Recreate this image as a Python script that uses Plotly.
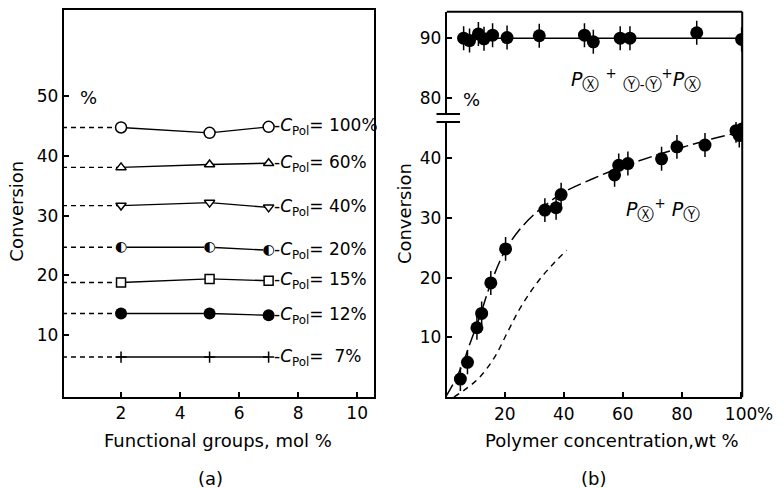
import plotly.graph_objects as go

W, H = 784, 488

# ---------------- Panel (a) data ----------------
fg_x = [2, 5, 7]                      # functional groups, mol %
extrap_x = [0.0, 2.0]                 # dashed extrapolation toward the axis
cpol_labels = ["100%", "60%", "40%", "20%", "15%", "12%", "\u00a07%"]
conv_100 = [44.8, 43.9, 44.9]
conv_60 = [38.1, 38.6, 38.8]
conv_40 = [31.7, 32.2, 31.4]
conv_20 = [24.7, 24.7, 24.2]
conv_15 = [18.8, 19.4, 19.1]
conv_12 = [13.6, 13.6, 13.3]
conv_7 = [6.3, 6.3, 6.3]

# ---------------- Panel (b) data ----------------
upper_x = [6.1, 8.1, 11.1, 13.0, 15.9, 20.8, 31.7, 47.0, 50.0, 59.1, 62.4, 85.0, 100.2]
upper_y = [90.0, 89.6, 90.7, 89.9, 90.5, 90.1, 90.4, 90.5, 89.4, 90.0, 90.0, 90.9, 89.8]
upper_err = [2] * len(upper_x)
upper_fit_x = [6, 100]
upper_fit_y = [90, 90]

lower_x = [5.0, 7.4, 10.6, 12.2, 15.3, 20.3, 33.6, 37.4, 39.1, 57.2, 58.6, 61.7,
           73.1, 78.3, 87.8, 98.3, 99.4, 100.4]
lower_y = [3.0, 5.8, 11.6, 14.0, 19.1, 24.8, 31.3, 31.7, 33.9, 37.2, 38.8, 39.1,
           39.9, 41.9, 42.2, 44.6, 43.8, 44.9]
lower_err = [2] * len(lower_x)

fit_x = [0, 3, 6, 8, 10, 12, 15, 20, 25, 30, 35, 40, 50, 60, 70, 80, 90, 100]
fit_y = [0, 2.6, 5.8, 8.6, 11.3, 14.1, 18.6, 24.4, 28.0, 30.6, 32.6, 34.3, 36.6,
         38.6, 40.3, 41.8, 43.2, 44.4]

sig_x = [2.8, 7.0, 11.5, 16.5, 21.0, 25.0, 29.0, 33.0, 37.0, 41.0]
sig_y = [0.0, 1.4, 3.3, 6.6, 10.9, 14.7, 17.8, 20.4, 22.6, 24.6]

x_ticks_a = [2, 4, 6, 8, 10]
y_ticks_a = [10, 20, 30, 40, 50]
x_ticks_b = [20, 40, 60, 80, 100]
y_ticks_b_low = [10, 20, 30, 40]
y_ticks_b_up = [80, 90]

FONT = "DejaVu Sans"
BLACK = "black"

fig = go.Figure()

outline = dict(width=1.5, color=BLACK)
series_a = [
    (conv_100, dict(symbol="circle", size=11, color="white", line=outline)),
    (conv_60, dict(symbol="triangle-up", size=9, color="white", line=outline)),
    (conv_40, dict(symbol="triangle-down", size=9, color="white", line=outline)),
    (conv_20, None),
    (conv_15, dict(symbol="square", size=9, color="white", line=outline)),
    (conv_12, dict(symbol="circle", size=12, color=BLACK)),
    (conv_7, dict(symbol="cross-thin", size=8, color=BLACK, line=outline)),
]

for vals, mk in series_a:
    fig.add_trace(go.Scatter(x=extrap_x, y=[vals[0], vals[0]], mode="lines",
                             line=dict(color=BLACK, width=1.4, dash="5px,4px"),
                             xaxis="x", yaxis="y", showlegend=False, hoverinfo="skip"))
    fig.add_trace(go.Scatter(x=fg_x, y=vals, mode="lines",
                             line=dict(color=BLACK, width=1.4),
                             xaxis="x", yaxis="y", showlegend=False, hoverinfo="skip"))
    if mk is None:
        fig.add_trace(go.Scatter(x=fg_x, y=vals, mode="markers",
                                 marker=dict(symbol="circle", size=11, color="white",
                                             line=dict(width=0)),
                                 xaxis="x", yaxis="y", showlegend=False, hoverinfo="skip"))
        fig.add_trace(go.Scatter(x=fg_x, y=vals, mode="text", text=["\u25D0"] * 3,
                                 textposition="middle center",
                                 textfont=dict(family=FONT, size=14, color=BLACK),
                                 xaxis="x", yaxis="y", showlegend=False, hoverinfo="skip"))
    else:
        fig.add_trace(go.Scatter(x=fg_x, y=vals, mode="markers", marker=mk,
                                 xaxis="x", yaxis="y", showlegend=False, hoverinfo="skip"))

annotations = []
for (vals, _), lab in zip(series_a, cpol_labels):
    annotations.append(dict(x=fg_x[-1] + 0.12, y=vals[-1], xref="x", yref="y",
                            text="-<i>C</i><sub>Pol</sub>= " + lab, showarrow=False,
                            xanchor="left", yanchor="middle",
                            font=dict(family=FONT, size=17, color=BLACK)))

# ---------------- Panel (b) traces ----------------
fig.add_trace(go.Scatter(x=upper_fit_x, y=upper_fit_y, mode="lines",
                         line=dict(color=BLACK, width=1.4),
                         xaxis="x2", yaxis="y3", showlegend=False, hoverinfo="skip"))
fig.add_trace(go.Scatter(x=upper_x, y=upper_y, mode="markers",
                         marker=dict(symbol="circle", size=13, color=BLACK),
                         error_y=dict(type="data", array=upper_err, visible=True,
                                      color=BLACK, thickness=1.5, width=0),
                         xaxis="x2", yaxis="y3", showlegend=False, hoverinfo="skip"))

fig.add_trace(go.Scatter(x=fit_x, y=fit_y, mode="lines", line_shape="spline",
                         line=dict(color=BLACK, width=1.5, dash="14px,5px"),
                         xaxis="x2", yaxis="y2", showlegend=False, hoverinfo="skip"))
fig.add_trace(go.Scatter(x=sig_x, y=sig_y, mode="lines", line_shape="spline",
                         line=dict(color=BLACK, width=1.4, dash="6px,5px"),
                         xaxis="x2", yaxis="y2", showlegend=False, hoverinfo="skip"))
fig.add_trace(go.Scatter(x=lower_x, y=lower_y, mode="markers",
                         marker=dict(symbol="circle", size=13, color=BLACK),
                         error_y=dict(type="data", array=lower_err, visible=True,
                                      color=BLACK, thickness=1.5, width=0),
                         xaxis="x2", yaxis="y2", showlegend=False, hoverinfo="skip"))


def px(x):
    return x / W


def py(y):
    return 1 - y / H


axis_common = dict(showgrid=False, zeroline=False, showline=True, linecolor=BLACK,
                   linewidth=2, ticks="inside", ticklen=5, tickwidth=1.5, tickcolor=BLACK,
                   tickfont=dict(family=FONT, size=17, color=BLACK))

fig.update_layout(
    width=W, height=H, margin=dict(l=0, r=0, t=0, b=0),
    paper_bgcolor="white", plot_bgcolor="white",
    xaxis=dict(domain=[px(65), px(381)], range=[0.06, 10.56], tickvals=x_ticks_a,
               anchor="y", mirror=True, **axis_common),
    yaxis=dict(domain=[py(396.5), py(10)], range=[-0.32, 64.5], tickvals=y_ticks_a,
               anchor="x", mirror=True, **axis_common),
    xaxis2=dict(domain=[px(455.5), px(756.7)], range=[0.4, 100.4], tickvals=x_ticks_b,
                ticktext=[str(v) for v in x_ticks_b], anchor="y2", **axis_common),
    yaxis2=dict(domain=[py(397.3), py(122)], range=[-0.05, 46.06], tickvals=y_ticks_b_low,
                anchor="x2", **axis_common),
    yaxis3=dict(domain=[py(114), py(11.7)], range=[77.4, 94.4], tickvals=y_ticks_b_up,
                anchor="x2", **axis_common),
)

shapes = [
    dict(type="line", xref="paper", yref="paper", x0=px(455.5), x1=px(756.7),
         y0=py(11.7), y1=py(11.7), line=dict(color=BLACK, width=2)),
    dict(type="line", xref="paper", yref="paper", x0=px(756.7), x1=px(756.7),
         y0=py(397.3), y1=py(11.7), line=dict(color=BLACK, width=2)),
    dict(type="line", xref="paper", yref="paper", x0=px(445), x1=px(469),
         y0=py(114), y1=py(114), line=dict(color=BLACK, width=2)),
    dict(type="line", xref="paper", yref="paper", x0=px(445), x1=px(469),
         y0=py(122), y1=py(122), line=dict(color=BLACK, width=2)),
]
fig.update_layout(shapes=shapes)

CX = '<span style="font-size:17px">\u24CD</span>'
CY = '<span style="font-size:17px">\u24CE</span>'
txt = dict(family=FONT, size=18, color=BLACK)
annotations += [
    dict(x=px(90), y=py(98), text="%"),
    dict(x=px(481), y=py(99), text="%"),
    dict(x=px(780), y=py(414), text="%", font=dict(family=FONT, size=17, color=BLACK)),
    dict(x=px(17), y=py(211), text="Conversion", textangle=-90),
    dict(x=px(412), y=py(214), text="Conversion", textangle=-90),
    dict(x=px(222), y=py(440), text="Functional groups, mol %"),
    dict(x=px(624), y=py(440), text="Polymer concentration,wt %"),
    dict(x=px(215), y=py(478), text="(a)"),
    dict(x=px(605), y=py(478), text="(b)"),
    dict(x=px(648), y=py(80),
         text="<i>P</i><sub>" + CX + "</sub> <sup>+</sup> <sub>" + CY + "-" + CY +
              "</sub><sup>+</sup><i>P</i><sub>" + CX + "</sub>",
         font=dict(family=FONT, size=19, color=BLACK)),
    dict(x=px(676), y=py(210),
         text="<i>P</i><sub>" + CX + "</sub><sup>+</sup> <i>P</i><sub>" + CY + "</sub>",
         font=dict(family=FONT, size=19, color=BLACK)),
]
for a in annotations:
    a.setdefault("xref", "paper")
    a.setdefault("yref", "paper")
    a.setdefault("showarrow", False)
    a.setdefault("font", txt)
    a.setdefault("xanchor", "center")
    a.setdefault("yanchor", "middle")
fig.update_layout(annotations=annotations)

fig.write_html("out.html")
